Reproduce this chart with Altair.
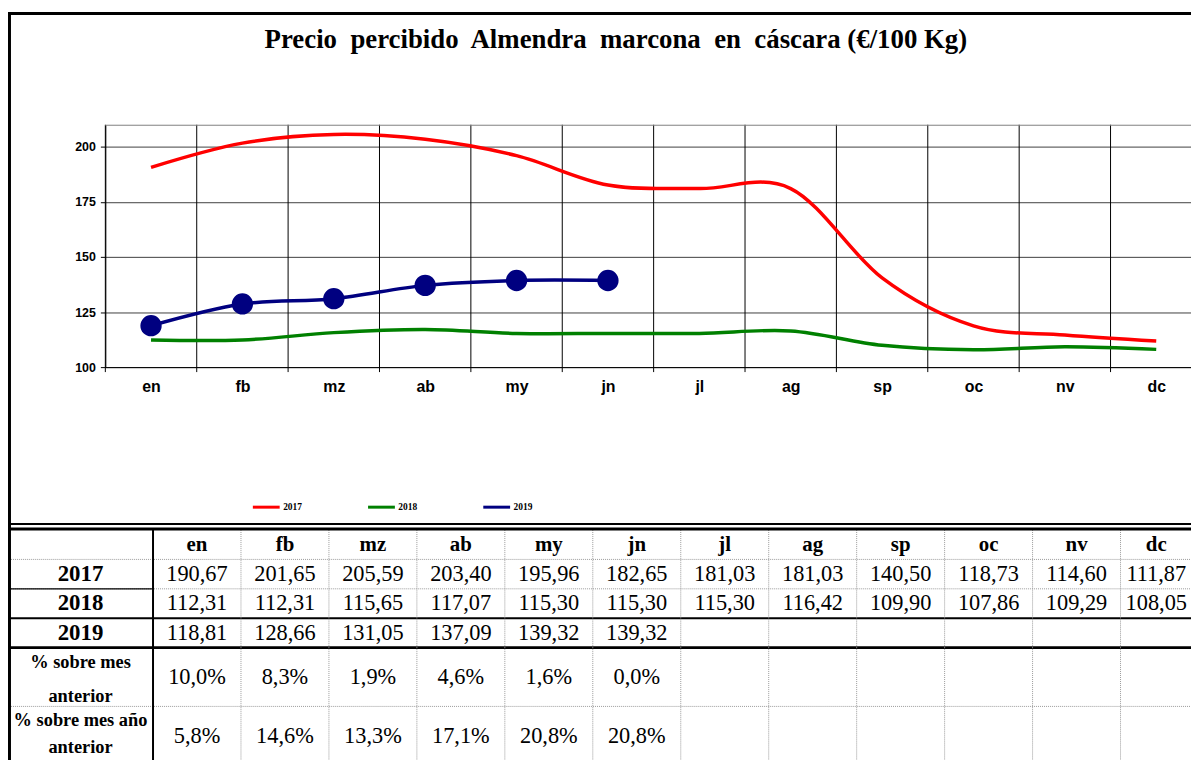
import json
import altair as alt
import pandas as pd

# ---------------- data ----------------
months = ["en", "fb", "mz", "ab", "my", "jn", "jl", "ag", "sp", "oc", "nv", "dc"]
series_names = ["2017", "2018", "2019"]
series_colors = ["#FF0000", "#008000", "#000080"]
v2017 = [190.67, 201.65, 205.59, 203.40, 195.96, 182.65, 181.03, 181.03, 140.50, 118.73, 114.60, 111.87]
v2018 = [112.31, 112.31, 115.65, 117.07, 115.30, 115.30, 115.30, 116.42, 109.90, 107.86, 109.29, 108.05]
v2019 = [118.81, 128.66, 131.05, 137.09, 139.32, 139.32]
pct_prev_month = ["10,0%", "8,3%", "1,9%", "4,6%", "1,6%", "0,0%"]
pct_prev_year = ["5,8%", "14,6%", "13,3%", "17,1%", "20,8%", "20,8%"]
row_labels = ["2017", "2018", "2019", "% sobre mes\nanterior", "% sobre mes año\nanterior"]
title_text = "Precio\u00a0 percibido\u00a0 Almendra\u00a0 marcona\u00a0 en\u00a0 cáscara (€/100 Kg)"
y_ticks = [100, 125, 150, 175, 200]

# ---------------- layout constants ----------------
W, H = 1093, 244          # plot area
BAND = 92                 # px per month in the plot
PAD_L, PAD_T = 98, 115
TOTAL_H = 752
SERIF = "Liberation Serif"
SANS = "Liberation Sans"

series_vals = [v2017, v2018, v2019]
rows = []
for name, vals in zip(series_names, series_vals):
    for i, v in enumerate(vals):
        rows.append({"serie": name, "pos": i + 0.5, "valor": v, "orden": series_names.index(name)})
line_df = pd.DataFrame(rows)

x_scale = alt.Scale(domain=[0, W / BAND], nice=False, zero=False)
y_scale = alt.Scale(domain=[100, 210], nice=False, zero=False)

label_expr = json.dumps(months) + "[floor(datum.value)]"
x_axis = alt.Axis(values=[i + 0.5 for i in range(12)], labelExpr=label_expr, grid=False,
                  ticks=False, domainColor="black", domainWidth=1, labelFont=SANS,
                  labelFontWeight="bold", labelFontSize=16, labelPadding=12, labelColor="black",
                  title=None)
y_axis = alt.Axis(values=y_ticks, grid=True, gridColor="#404040", gridWidth=1, tickSize=5,
                  tickColor="black", domainColor="black", labelFont=SANS, labelFontWeight="bold",
                  labelFontSize=12.5, labelPadding=5, labelColor="black", title=None, format="d")

dummy = alt.Data(values=[{"k": 0}])

vgrid = alt.Chart(pd.DataFrame({"pos": list(range(12))})).mark_rule(color="black", strokeWidth=1).encode(
    x=alt.X("pos:Q", scale=x_scale, axis=x_axis),
    y=alt.value(0), y2=alt.value(H + 5))

topline = alt.Chart(dummy).mark_rule(color="#808080", strokeWidth=1).encode(
    x=alt.value(0), x2=alt.value(W), y=alt.value(0.5))

lines = alt.Chart(line_df).mark_line(interpolate="cardinal", strokeWidth=3.5, clip=True).encode(
    x=alt.X("pos:Q", scale=x_scale, axis=x_axis),
    y=alt.Y("valor:Q", scale=y_scale, axis=y_axis),
    color=alt.Color("serie:N", scale=alt.Scale(domain=series_names, range=series_colors),
                    legend=alt.Legend(orient="none", legendX=147, legendY=370, direction="horizontal",
                                      title=None, symbolType="stroke", symbolSize=729,
                                      symbolStrokeWidth=3, labelFont=SERIF, labelFontWeight="bold",
                                      labelFontSize=9.5, labelOffset=2, columnPadding=60,
                                      labelColor="black")),
    detail="serie:N",
    order="orden:Q")

points = alt.Chart(line_df).transform_filter(alt.datum.serie == "2019").mark_circle(
    size=460, opacity=1, color="#000080").encode(
    x=alt.X("pos:Q", scale=x_scale, axis=x_axis),
    y=alt.Y("valor:Q", scale=y_scale, axis=y_axis))

plot = alt.layer(vgrid, topline, lines, points)

# ---------------- table ----------------
COLW = 88.55
ROWH = 29.6
LAST_COL_W = 72
tx = alt.Scale(domain=[0, 12], range=[154 - 106, 154 - 106 + 12 * COLW], nice=False, zero=False)
ty = alt.Scale(domain=[0, 8], range=[531 - 123, 531 - 123 + 8 * ROWH], nice=False, zero=False)
col_edges = list(range(12)) + [11 + LAST_COL_W / COLW]
col_centers = [(col_edges[i] + col_edges[i + 1]) / 2 for i in range(12)]

dot_h = alt.Chart(pd.DataFrame({"r": [1, 2, 6]})).mark_rule(color="#9a9a9a", strokeWidth=1, strokeDash=[1, 1]).encode(
    x=alt.value(-97), x2=alt.value(W), y=alt.Y("r:Q", scale=ty, axis=None))
solid_lbl = alt.Chart(pd.DataFrame({"r": [2]})).mark_rule(color="black", strokeWidth=1.2).encode(
    x=alt.value(-97), x2=alt.value(48), y=alt.Y("r:Q", scale=ty, axis=None))
solid2 = alt.Chart(pd.DataFrame({"r": [3]})).mark_rule(color="black", strokeWidth=2).encode(
    x=alt.value(-97), x2=alt.value(W), y=alt.Y("r:Q", scale=ty, axis=None))
solid3 = alt.Chart(pd.DataFrame({"r": [4]})).mark_rule(color="black", strokeWidth=3).encode(
    x=alt.value(-97), x2=alt.value(W), y=alt.Y("r:Q", scale=ty, axis=None))
dot_v = alt.Chart(pd.DataFrame({"c": col_edges[1:]})).mark_rule(color="#9a9a9a", strokeWidth=1, strokeDash=[1, 1]).encode(
    x=alt.X("c:Q", scale=tx, axis=None), y=alt.value(408), y2=alt.value(700))
solid_v = alt.Chart(pd.DataFrame({"c": [0]})).mark_rule(color="black", strokeWidth=2).encode(
    x=alt.X("c:Q", scale=tx, axis=None), y=alt.value(408), y2=alt.value(700))

head_df = pd.DataFrame({"c": col_centers, "r": [0.5] * 12, "t": months})
header = alt.Chart(head_df).mark_text(font=SERIF, fontWeight="bold", fontSize=21, baseline="middle", color="black").encode(
    x=alt.X("c:Q", scale=tx, axis=None), y=alt.Y("r:Q", scale=ty, axis=None), text="t:N")

val_rows = []
for k, vals in enumerate(series_vals):
    for i, v in enumerate(vals):
        val_rows.append({"c": col_centers[i], "r": k + 1.5, "t": f"{v:.2f}".replace(".", ",")})
for i, s in enumerate(pct_prev_month):
    val_rows.append({"c": col_centers[i], "r": 5.0, "t": s})
for i, s in enumerate(pct_prev_year):
    val_rows.append({"c": col_centers[i], "r": 7.0, "t": s})
values_txt = alt.Chart(pd.DataFrame(val_rows)).mark_text(font=SERIF, fontSize=22.5, baseline="middle", color="black").encode(
    x=alt.X("c:Q", scale=tx, axis=None), y=alt.Y("r:Q", scale=ty, axis=None), text="t:N")

years_df = pd.DataFrame({"r": [1.5, 2.5, 3.5], "t": row_labels[:3]})
years_txt = alt.Chart(years_df).mark_text(font=SERIF, fontWeight="bold", fontSize=23, baseline="middle", color="black").encode(
    x=alt.value(-25), y=alt.Y("r:Q", scale=ty, axis=None), text="t:N")
pct1_txt = alt.Chart(pd.DataFrame({"r": [5.0], "t": [row_labels[3]]})).mark_text(
    font=SERIF, fontWeight="bold", fontSize=18.5, baseline="middle",
    lineBreak="\n", lineHeight=34, dy=-15, color="black").encode(
    x=alt.value(-25), y=alt.Y("r:Q", scale=ty, axis=None), text="t:N")
pct2_txt = alt.Chart(pd.DataFrame({"r": [7.0], "t": [row_labels[4]]})).mark_text(
    font=SERIF, fontWeight="bold", fontSize=18.5, baseline="middle",
    lineBreak="\n", lineHeight=27, dy=-16, color="black").encode(
    x=alt.value(-25), y=alt.Y("r:Q", scale=ty, axis=None), text="t:N")

table = alt.layer(dot_h, solid_lbl, solid2, solid3, dot_v, solid_v, header, values_txt, years_txt,
                  pct1_txt, pct2_txt)

# ---------------- frame & title ----------------
top_border = alt.Chart(dummy).mark_rule(color="black", strokeWidth=3).encode(
    x=alt.value(-98), x2=alt.value(W), y=alt.value(11 - 123))
left_border = alt.Chart(dummy).mark_rule(color="black", strokeWidth=3).encode(
    x=alt.value(-96.5), y=alt.value(10 - 123), y2=alt.value(700))
bottom_thin = alt.Chart(dummy).mark_rule(color="black", strokeWidth=2).encode(
    x=alt.value(-98), x2=alt.value(W), y=alt.value(525 - 123))
bottom_thick = alt.Chart(dummy).mark_rule(color="black", strokeWidth=3).encode(
    x=alt.value(-98), x2=alt.value(W), y=alt.value(530 - 123))
title = alt.Chart(alt.Data(values=[{"t": title_text}])).mark_text(
    font=SERIF, fontWeight="bold", fontSize=27, baseline="alphabetic", align="center", color="black").encode(
    x=alt.value(620 - 106), y=alt.value(46 - 123), text="t:N")

frame = alt.layer(top_border, left_border, bottom_thin, bottom_thick, title)

chart = alt.layer(plot, table, frame).resolve_scale(x="independent", y="independent").properties(
    width=W, height=H,
    autosize=alt.AutoSizeParams(type="none"),
    padding={"left": PAD_L, "top": PAD_T, "right": 0, "bottom": TOTAL_H - PAD_T - H},
    background="white",
).configure_view(strokeWidth=0)

chart.save("out.html", embed_options={"renderer": "svg", "actions": False})
